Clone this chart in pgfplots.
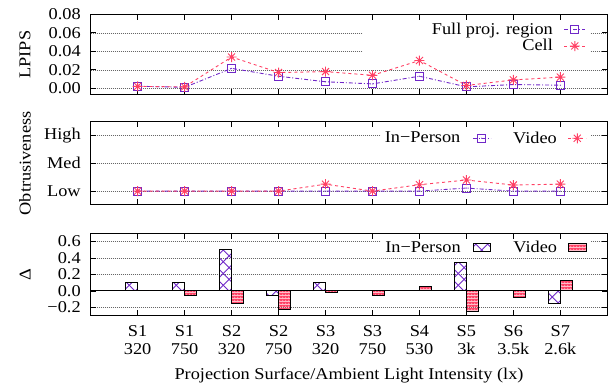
\documentclass[border=0pt]{standalone}
\usepackage{fontspec}
\setmainfont{Liberation Serif}[FakeStretch=1.11]
\usepackage{pgfplots}
\pgfplotsset{compat=1.18}
\usetikzlibrary{patterns.meta}
\definecolor{gpurple}{RGB}{112,40,200}
\definecolor{gpink}{RGB}{255,64,100}

\pgfdeclarepattern{
  name=gpcross,
  type=uncolored,
  bottom left={\pgfpoint{-0.5bp}{-0.5bp}},
  top right={\pgfpoint{12.25bp}{12.25bp}},
  tile size={\pgfpoint{11.75bp}{11.75bp}},
  code={
    \pgfsetlinewidth{0.8bp}
    \pgfpathmoveto{\pgfpoint{0bp}{0bp}}\pgfpathlineto{\pgfpoint{11.75bp}{11.75bp}}
    \pgfpathmoveto{\pgfpoint{0bp}{11.75bp}}\pgfpathlineto{\pgfpoint{11.75bp}{0bp}}
    \pgfusepath{stroke}
  }
}
\pgfdeclarepattern{
  name=gpcheckred,
  type=colored,
  bottom left={\pgfpoint{0bp}{0bp}},
  top right={\pgfpoint{3bp}{3bp}},
  tile size={\pgfpoint{3bp}{3bp}},
  code={
    \pgfsetfillcolor{gpink}
    \pgfpathrectangle{\pgfpoint{0bp}{0bp}}{\pgfpoint{3bp}{3bp}}
    \pgfusepath{fill}
    \pgfsetfillcolor{white}
    \pgfpathrectangle{\pgfpoint{0.4bp}{0.4bp}}{\pgfpoint{1.1bp}{1.1bp}}
    \pgfusepath{fill}
  }
}

\pgfdeclareplotmark{gpsq}{%
  \pgfpathrectangle{\pgfqpoint{-\pgfplotmarksize}{-\pgfplotmarksize}}{\pgfqpoint{2\pgfplotmarksize}{2\pgfplotmarksize}}%
  \pgfusepathqstroke
  \pgfpathcircle{\pgfpointorigin}{0.6bp}\pgfusepathqfill}
\pgfdeclareplotmark{gpstar}{%
  \pgfpathmoveto{\pgfqpoint{-\pgfplotmarksize}{0pt}}\pgfpathlineto{\pgfqpoint{\pgfplotmarksize}{0pt}}%
  \pgfpathmoveto{\pgfqpoint{0pt}{-\pgfplotmarksize}}\pgfpathlineto{\pgfqpoint{0pt}{\pgfplotmarksize}}%
  \pgfpathmoveto{\pgfqpoint{-.7071\pgfplotmarksize}{-.7071\pgfplotmarksize}}\pgfpathlineto{\pgfqpoint{.7071\pgfplotmarksize}{.7071\pgfplotmarksize}}%
  \pgfpathmoveto{\pgfqpoint{-.7071\pgfplotmarksize}{.7071\pgfplotmarksize}}\pgfpathlineto{\pgfqpoint{.7071\pgfplotmarksize}{-.7071\pgfplotmarksize}}%
  \pgfusepathqstroke}

\pgfplotsset{
  gpbase/.style={
    scale only axis, width=516.6bp, xmin=-1, xmax=10, xtick={0,...,9},
    tick align=inside, tick pos=both, major tick length=5.5bp,
    axis line style={line width=1bp},
    every tick/.style={black, line width=0.8bp},
    ymajorgrids, major grid style={black!60, line width=0.5bp, dash pattern=on 0.8bp off 1.2bp},
    yticklabel style={xshift=-6.5bp},
    scaled y ticks=false,
    /pgf/number format/assume math mode=true,
    every axis y label/.style={at={(axis description cs:-0.127,0.5)}, rotate=90, anchor=center},
    legend cell align=right,
    legend plot pos=right,
  },
  purpline/.style={gpurple, line width=0.9bp, dash pattern=on 4bp off 2bp on 1bp off 2bp, mark=gpsq, mark size=4bp, mark options={solid}},
  pinkline/.style={gpink, line width=0.9bp, dash pattern=on 3bp off 3bp, mark=gpstar, mark size=5bp, mark options={solid}},
}

\begin{document}
\begin{tikzpicture}[font=\fontsize{16.5bp}{18.3bp}\selectfont]
\useasboundingbox (0bp,0bp) rectangle (608bp,391bp);

% ---------------- LPIPS ----------------
\begin{axis}[gpbase, at={(90.7bp,296bp)}, anchor=south west, height=80.7bp,
  ymin=-0.0073, ymax=0.08, ytick={0,0.02,0.04,0.06,0.08},
  yticklabels={0.00,0.02,0.04,0.06,0.08}, xticklabels={},
  ylabel={LPIPS},
  legend style={draw=none, fill=white, inner xsep=4bp, inner ysep=2bp,
    nodes={inner sep=0pt}, row sep=3.4bp,
    /tikz/column 1/.style={column sep=11bp},
    at={(axis description cs:0.9665,0.917)}, anchor=north east},
  legend image code/.code={\draw[mark repeat=2,mark phase=2,#1] plot coordinates {(0bp,0bp) (10.5bp,0bp) (21bp,0bp)};}]
\addplot[purpline] coordinates {(0,0.0022)(1,0.001)(2,0.0215)(3,0.013)(4,0.007)(5,0.0047)(6,0.013)(7,0.0015)(8,0.004)(9,0.0033)};
\addlegendentry{\makebox[185.7bp][r]{Full proj. region}}
\addplot[pinkline] coordinates {(0,0.002)(1,0.0015)(2,0.0338)(3,0.017)(4,0.018)(5,0.014)(6,0.030)(7,0.003)(8,0.009)(9,0.012)};
\addlegendentry{\makebox[185.7bp][r]{Cell}}
\end{axis}

% ---------------- Obtrusiveness ----------------
\begin{axis}[gpbase, at={(90.7bp,186bp)}, anchor=south west, height=83.3bp,
  ymin=0.5, ymax=3.5, ytick={1,2,3}, yticklabels={Low,Med,High}, xticklabels={},
  ylabel={Obtrusiveness},
  legend columns=2,
  legend style={draw=none, fill=white, inner xsep=4bp, inner ysep=2bp,
    nodes={inner sep=0pt},
    /tikz/column 1/.style={column sep=12bp},
    /tikz/column 2/.style={column sep=22bp},
    /tikz/column 3/.style={column sep=11bp},
    at={(axis description cs:0.9684,0.905)}, anchor=north east},
  legend image code/.code={\draw[mark repeat=2,mark phase=2,#1] plot coordinates {(0bp,0bp) (9bp,0bp) (18bp,0bp)};}]
\addplot[purpline] coordinates {(0,1)(1,1)(2,1)(3,1)(4,1)(5,1)(6,1)(7,1.11)(8,1)(9,1)};
\addlegendentry{In−Person}
\addplot[pinkline] coordinates {(0,1)(1,1)(2,1)(3,1)(4,1.25)(5,1)(6,1.23)(7,1.4)(8,1.22)(9,1.25)};
\addlegendentry{Video}
\end{axis}

% ---------------- Delta ----------------
\begin{axis}[gpbase, at={(90.7bp,75.3bp)}, anchor=south west, height=82.4bp,
  ymin=-0.3, ymax=0.7, ytick={-0.2,0.2,0.4,0.6}, yticklabels={−0.2,0.2,0.4,0.6},
  extra y ticks={0}, extra y tick labels={0.0}, extra y tick style={grid=none},
  xticklabels={{S1\\320},{S1\\750},{S2\\320},{S2\\750},{S3\\320},{S3\\750},{S4\\530},{S5\\3k},{S6\\3.5k},{S7\\2.6k}},
  xticklabel style={align=center, yshift=-6bp},
  ylabel={Δ},
  xlabel={Projection Surface/Ambient Light Intensity (lx)},
  every axis x label/.style={at={(axis description cs:0.5,-0.72)}, anchor=center},
  legend columns=2,
  legend style={draw=none, fill=white, inner xsep=4bp, inner ysep=2bp,
    nodes={inner sep=0pt},
    /tikz/column 1/.style={column sep=12bp},
    /tikz/column 2/.style={column sep=22bp},
    /tikz/column 3/.style={column sep=11bp},
    at={(axis description cs:0.9684,0.931)}, anchor=north east},
  legend image code/.code={\draw[#1] (0bp,-4.2bp) rectangle (17.7bp,4.2bp);}]
\addplot[black, line width=1bp, forget plot] coordinates {(-1,0)(10,0)};
\addplot[ybar, bar width=0.25, bar shift=-0.125, draw=black, line width=1bp, pattern={gpcross}, pattern color=gpurple]
  coordinates {(0,0.1)(1,0.1)(2,0.5)(3,-0.05)(4,0.1)(5,0)(6,0)(7,0.35)(8,0)(9,-0.15)};
\addlegendentry{In−Person}
\addplot[ybar, bar width=0.25, bar shift=0.125, draw=black, line width=1bp, pattern={gpcheckred}]
  coordinates {(0,0)(1,-0.05)(2,-0.15)(3,-0.22)(4,-0.02)(5,-0.05)(6,0.05)(7,-0.25)(8,-0.08)(9,0.13)};
\addlegendentry{Video}
\end{axis}
\end{tikzpicture}
\end{document}
